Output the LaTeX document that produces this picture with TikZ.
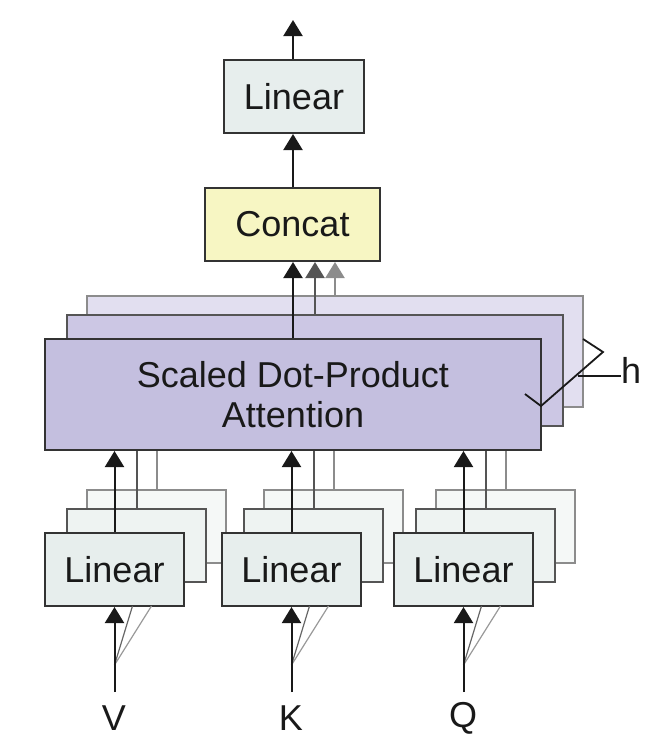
\documentclass[tikz,border=0pt]{standalone}
\usepackage{fontspec}
\setmainfont{Liberation Sans}
\usetikzlibrary{arrows.meta}
\definecolor{linA}{HTML}{E7EEED}
\definecolor{linB}{HTML}{EEF3F2}
\definecolor{linC}{HTML}{F5F8F7}
\definecolor{concatfill}{HTML}{F7F6C3}
\definecolor{attA}{HTML}{C4BFDF}
\definecolor{attB}{HTML}{CCC7E4}
\definecolor{attC}{HTML}{E2DFF0}
\definecolor{bordA}{HTML}{333333}
\definecolor{bordB}{HTML}{555555}
\definecolor{bordC}{HTML}{8C8C8C}
\definecolor{fanA}{HTML}{666666}
\definecolor{fanB}{HTML}{999999}
\tikzset{
  txt/.style={font=\fontsize{36}{43}\selectfont, text=black!90},
  boxA/.style={txt, draw=bordA, line width=2pt, inner sep=0pt},
  boxB/.style={draw=bordB, line width=2pt, inner sep=0pt},
  boxC/.style={draw=bordC, line width=2pt, inner sep=0pt},
  linsize/.style={minimum width=139pt, minimum height=73pt},
  attsize/.style={minimum width=496pt, minimum height=111pt},
  arrA/.style={draw=black!90, line width=2pt, -{Triangle[width=19pt,length=16pt]}},
  arrB/.style={draw=bordB, line width=2pt, -{Triangle[width=19pt,length=16pt]}},
  arrC/.style={draw=bordC, line width=2pt, -{Triangle[width=19pt,length=16pt]}},
  lnB/.style={draw=bordB, line width=2pt},
  lnC/.style={draw=bordC, line width=2pt},
  fanlA/.style={draw=fanA, line width=1.2pt},
  fanlB/.style={draw=fanB, line width=1.2pt},
}
\begin{document}
\begin{tikzpicture}[x=1pt,y=-1pt]
\useasboundingbox (0,0) rectangle (655,753);
% top
\node[boxA, linsize, fill=linA, minimum width=140pt] (lintop) at (294,96.5) {Linear};
\coordinate (out) at (293,20);
\node[boxA, fill=concatfill, minimum width=175pt, minimum height=73pt] (concat) at (292.5,224.5) {Concat};
% attention stack
\node[boxC, attsize, fill=attC] (attC) at (335,351.5) {};
\node[boxB, attsize, fill=attB] (attB) at (315,370.5) {};
\node[boxA, attsize, fill=attA, align=center] (attA) at (293,394.5) {Scaled Dot-Product\\[-3pt]Attention};
% linear stacks
\foreach \n/\x in {v/114.5, k/291.5, q/463.5}{
  \node[boxC, linsize, fill=linC] (\n C) at (\x+42,526.5) {};
  \node[boxB, linsize, fill=linB] (\n B) at (\x+22,545.5) {};
  \node[boxA, linsize, fill=linA] (\n A) at (\x,569.5) {Linear};
}
% labels
\node[txt] (V) at (114,718) {V};
\node[txt] (K) at (291,718) {K};
\node[txt] (Q) at (463,718) {Q};
% top arrows
\draw[arrA] (lintop.north -| out) -- (out);
\draw[arrA] (concat.north -| out) -- (lintop.south -| out);
\draw[arrA] (attA.north) -- (attA.north |- concat.south);
\draw[arrB] (attB.north) -- (attB.north |- concat.south);
\draw[arrC] (attC.north) -- (attC.north |- concat.south);
% linear to attention
\foreach \n in {v,k,q}{
  \draw[lnC] (\n C.north) -- (\n C.north |- attA.south);
  \draw[lnB] (\n B.north) -- (\n B.north |- attA.south);
  \draw[arrA] (\n A.north) -- (\n A.north |- attA.south);
}
% inputs
\foreach \n/\m/\x in {v/V/114.5, k/K/291.5, q/Q/463.5}{
  \coordinate (\n base) at (\x,692);
  \coordinate (\n fork) at (\x,665);
  \coordinate (\n f1) at (\x+18,606);
  \coordinate (\n f2) at (\x+37,606);
  \draw[fanlB] (\n fork) -- (\n f2);
  \draw[fanlA] (\n fork) -- (\n f1);
  \draw[arrA] (\n base) -- (\n A.south);
}
% h brace
\coordinate (b1) at (583,339);
\coordinate (b2) at (603,352);
\coordinate (b3) at (541,406);
\coordinate (b4) at (525,394);
\coordinate (hl) at (578,376);
\node[txt, anchor=west, inner sep=0pt] (h) at (621,370) {h};
\draw[line width=1.8pt, draw=black!90] (b1) -- (b2) -- (b3) -- (b4);
\draw[line width=1.8pt, draw=black!90] (hl) -- (h.west |- hl);
\end{tikzpicture}
\end{document}
